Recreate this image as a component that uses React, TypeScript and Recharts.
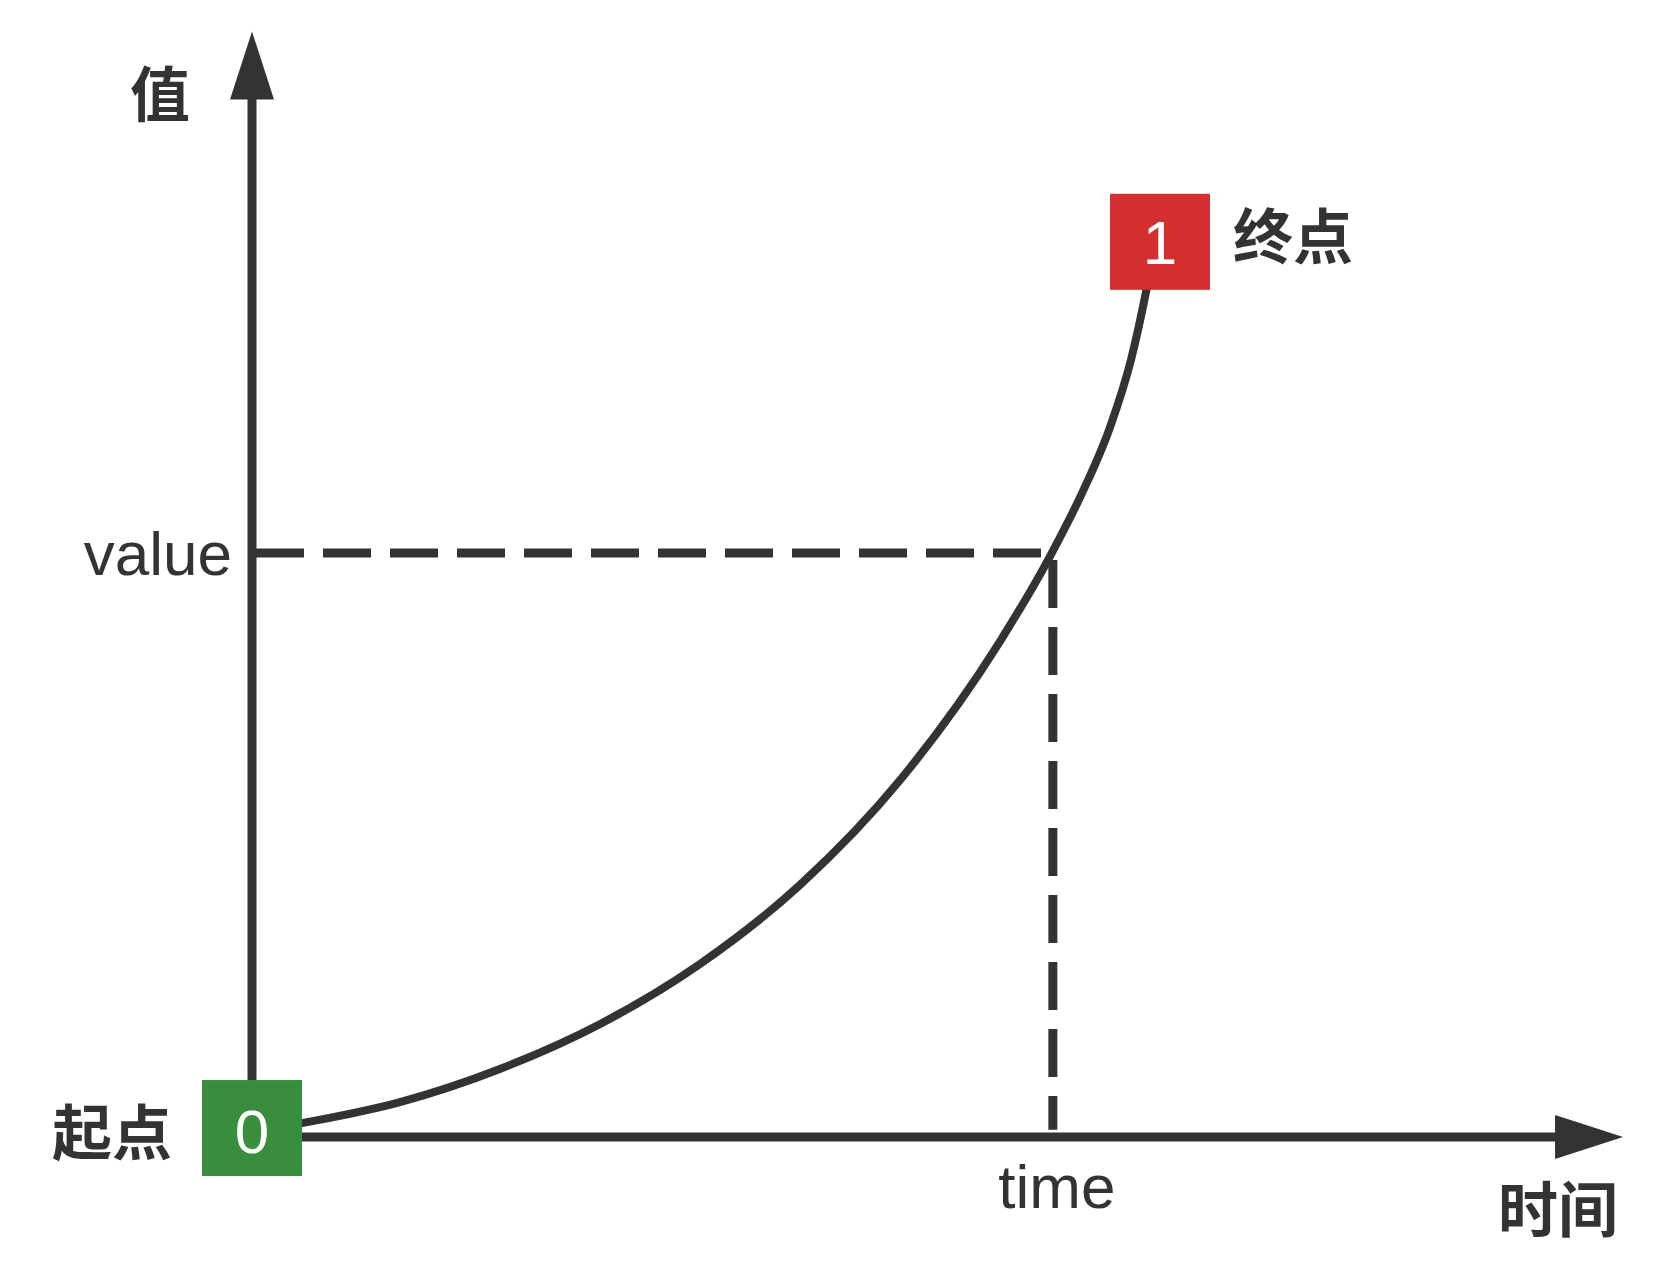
import { ComposedChart, Line, XAxis, YAxis, ReferenceLine, ReferenceDot } from "recharts";

// 曲线上读出的采样点 (time 0~1, value 0~1)
const TIME = [0, 0.053, 0.163, 0.273, 0.383, 0.493, 0.604, 0.714, 0.824, 0.879, 0.914, 0.945, 0.968, 0.985, 0.995];
const VALUE = [0.005, 0.015, 0.039, 0.076, 0.126, 0.193, 0.282, 0.399, 0.554, 0.649, 0.719, 0.793, 0.868, 0.946, 1.0];

// 起点 / 终点
const START = { t: 0, v: 0.01, text: "0", name: "起点" };
const END = { t: 1, v: 1, text: "1", name: "终点" };

// 虚线对应的 time / value
const PICK_TIME = 0.882;
const PICK_VALUE = 0.6525;
const DROP_END = 0.008;

// 坐标轴箭头终点
const AXIS_X_END = 1.51;
const AXIS_Y_END = 1.235;

const AXIS_LABELS = { x: "时间", y: "值" };
const PICK_LABELS = { time: "time", value: "value" };

const curveData = TIME.map((t, i) => ({ t, v: VALUE[i] }));

const INK = "#333333";
const CJK = "'Noto Sans CJK SC', 'Noto Sans', sans-serif";
const LATIN = "'Liberation Sans', Arial, sans-serif";

function AxisArrow(p: any) {
    const { x1, y1, x2, y2, label, dx, dy } = p;
    const len = Math.hypot(x2 - x1, y2 - y1) || 1;
    const ux = (x2 - x1) / len;
    const uy = (y2 - y1) / len;
    const head = 68;
    const half = 22;
    const bx = x2 - ux * head;
    const by = y2 - uy * head;
    const nx = -uy;
    const ny = ux;
    return (
        <g>
            <line x1={x1} y1={y1} x2={bx + ux * 2} y2={by + uy * 2} stroke={INK} strokeWidth={9} />
            <polygon
                points={`${x2},${y2} ${bx + nx * half},${by + ny * half} ${bx - nx * half},${by - ny * half}`}
                fill={INK}
            />
            <text
                x={x2 + dx}
                y={y2 + dy}
                textAnchor="middle"
                dominantBaseline="central"
                fontFamily={CJK}
                fontWeight={700}
                fontSize={60}
                fill={INK}
            >
                {label}
            </text>
        </g>
    );
}

function DashLine(p: any) {
    const { x1, y1, x2, y2, offset, label, lx, ly, anchor } = p;
    return (
        <g>
            <line
                x1={x1}
                y1={y1}
                x2={x2}
                y2={y2}
                stroke={INK}
                strokeWidth={9}
                strokeDasharray="48 19"
                strokeDashoffset={offset}
            />
            <text x={x1 + lx} y={y1 + ly} textAnchor={anchor} fontFamily={LATIN} fontSize={62} fill={INK}>
                {label}
            </text>
        </g>
    );
}

function MarkBox(p: any) {
    const { cx, cy, color, text, name, nx, ny, digitDy } = p;
    return (
        <g>
            <rect x={cx - 50} y={cy - 48} width={100} height={96} fill={color} />
            <text x={cx} y={cy + digitDy} textAnchor="middle" fontFamily={LATIN} fontSize={62} fill="#ffffff">
                {text}
            </text>
            <text
                x={cx + nx}
                y={cy + ny}
                textAnchor="middle"
                dominantBaseline="central"
                fontFamily={CJK}
                fontWeight={700}
                fontSize={60}
                fill={INK}
            >
                {name}
            </text>
        </g>
    );
}

export default function App() {
    return (
        <div style={{ position: "absolute", left: 0, top: 0, width: 1676, height: 1280, background: "#fff" }}>
            <ComposedChart
                width={1676}
                height={1280}
                data={curveData}
                margin={{ top: 18, right: 62, left: 252, bottom: 143 }}
            >
                <XAxis type="number" dataKey="t" domain={[0, 1.5]} hide />
                <YAxis type="number" domain={[0, 1.25]} hide />

                {/* 虚线 */}
                <ReferenceLine
                    segment={[{ x: 0, y: PICK_VALUE }, { x: PICK_TIME, y: PICK_VALUE }]}
                    ifOverflow="visible"
                    zIndex={300}
                    shape={(p: any) => (
                        <DashLine {...p} offset={-4} label={PICK_LABELS.value} lx={-20} ly={22} anchor="end" />
                    )}
                />
                <ReferenceLine
                    segment={[{ x: PICK_TIME, y: PICK_VALUE }, { x: PICK_TIME, y: DROP_END }]}
                    ifOverflow="visible"
                    zIndex={300}
                    shape={(p: any) => (
                        <DashLine {...p} offset={-7} label={PICK_LABELS.time} lx={4} ly={655} anchor="middle" />
                    )}
                />

                <Line
                    type="monotone"
                    dataKey="v"
                    stroke={INK}
                    strokeWidth={8}
                    dot={false}
                    activeDot={false}
                    isAnimationActive={false}
                />

                {/* 坐标轴 */}
                <ReferenceLine
                    segment={[{ x: 0, y: 0 }, { x: AXIS_X_END, y: 0 }]}
                    ifOverflow="visible"
                    zIndex={500}
                    shape={(p: any) => <AxisArrow {...p} label={AXIS_LABELS.x} dx={-65} dy={68} />}
                />
                <ReferenceLine
                    segment={[{ x: 0, y: 0 }, { x: 0, y: AXIS_Y_END }]}
                    ifOverflow="visible"
                    zIndex={500}
                    shape={(p: any) => <AxisArrow {...p} label={AXIS_LABELS.y} dx={-92} dy={59} />}
                />

                {/* 起点 / 终点 */}
                <ReferenceDot
                    x={START.t}
                    y={START.v}
                    ifOverflow="visible"
                    zIndex={600}
                    shape={(p: any) => (
                        <MarkBox {...p} color="#388e3c" text={START.text} name={START.name} nx={-140} ny={0} digitDy={25} />
                    )}
                />
                <ReferenceDot
                    x={END.t}
                    y={END.v}
                    ifOverflow="visible"
                    zIndex={600}
                    shape={(p: any) => (
                        <MarkBox {...p} color="#d32f2f" text={END.text} name={END.name} nx={133} ny={-9} digitDy={22} />
                    )}
                />
            </ComposedChart>
        </div>
    );
}
